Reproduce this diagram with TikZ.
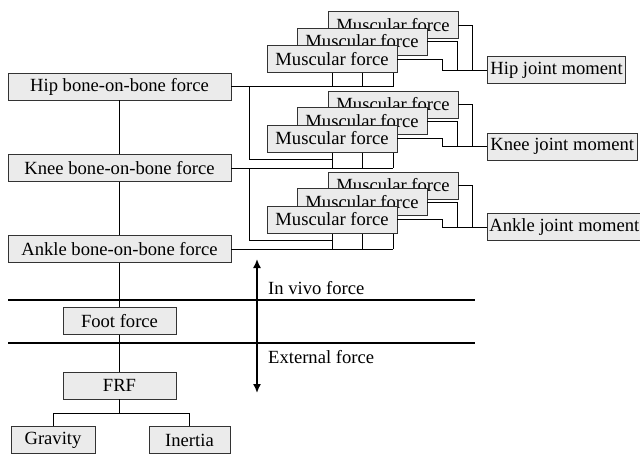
\documentclass[tikz,border=0pt]{standalone}
\usepackage{fontspec}
\setmainfont{Liberation Serif}
\usetikzlibrary{arrows.meta}
\tikzset{
  box/.style={draw=black!80,fill=black!8,line width=0.8pt,inner sep=0pt,minimum height=27pt,font=\fontsize{18.6}{21}\selectfont},
  bonebox/.style={box,minimum width=223pt},
  musclebox/.style={box,minimum width=130pt},
  momentbox/.style={box,anchor=west,inner xsep=3pt},
  smallbox/.style={box,minimum width=113pt},
}
\begin{document}
\begin{tikzpicture}[x=1pt,y=-1pt]
      \useasboundingbox (0,0) rectangle (640,455);
      % bone-on-bone chain
      \begin{scope}[every node/.style={bonebox}]
        \node (hip) at (119.5,86.5) {Hip bone-on-bone force};
        \node (knee) at (119.5,168) {Knee bone-on-bone force};
        \node (ankle) at (119.5,249) {Ankle bone-on-bone force};
      \end{scope}
      \begin{scope}[every node/.style={smallbox}]
        \node (foot) at (119.5,321) {Foot force};
        \node (frf) at (119.5,385.5) {FRF};
        \node[minimum width=84pt] (gravity) at (53,440) {Gravity};
        \node[minimum width=81pt] (inertia) at (189.5,440) {Inertia};
      \end{scope}
      % moments
      \begin{scope}[every node/.style={momentbox}]
        \node (hipm) at (487,70) {Hip joint moment};
        \node (kneem) at (487,146.5) {Knee joint moment};
        \node[inner xsep=2pt] (anklem) at (487,227) {Ankle joint moment};
      \end{scope}
      \coordinate (hipm-in) at (442,70);
      \coordinate (kneem-in) at (442,146.5);
      \coordinate (anklem-in) at (442,227);
      % muscle lines (drawn before the boxes)
      \begin{scope}[line width=0.8pt]
        \foreach \g/\y in {h/25,k/104.5,a/185.5} {
          \coordinate (m\g3) at (393,\y);
          \coordinate (m\g2) at (362,\y+16.5);
          \coordinate (m\g1) at (332,\y+34);
        }
        \draw[line width=1pt] (hip.east) -- (mh3 |- hip.east);
        \draw[line width=1pt] (knee.east) -- (mk3 |- knee.east);
        \draw[line width=1pt] (ankle.east) -- (ma3 |- ankle.east);
        \foreach \i in {1,2,3} {
          \draw (mh\i) -- (mh\i |- hip.east);
          \draw (mk\i) -- (mk\i |- knee.east);
          \draw (ma\i) -- (ma\i |- ankle.east);
        }
        \draw ([xshift=18pt]hip.east) |- ([yshift=-5pt]mk1 |- knee.north);
        \draw ([xshift=18pt]knee.east) |- ([yshift=-5pt]ma1 |- ankle.north);
      \end{scope}
      \begin{scope}[every node/.style={musclebox}]
        \foreach \g in {h,k,a} {
          \node (b\g3) at (m\g3) {Muscular force};
          \node (b\g2) at (m\g2) {Muscular force};
          \node (b\g1) at (m\g1) {Muscular force};
        }
      \end{scope}
      \begin{scope}[line width=0.8pt]
        \foreach \g/\m in {h/hipm,k/kneem,a/anklem} {
          \draw (b\g3.east) -- ++(14,0) |- (\m.west);
          \draw (b\g2.east) -- ++(30,0) |- (\m.west);
          \draw (b\g1.east) -| (\m-in) -- (\m.west);
        }
        \draw (hip) -- (knee);
        \draw (knee) -- (ankle);
        \draw (ankle) -- (foot);
        \draw (foot) -- (frf);
        \draw (frf.south) -- ++(0,14) -| (gravity.north);
        \draw (frf.south) -- ++(0,14) -| (inertia.north);
      \end{scope}
      % in vivo / external
      \coordinate (lineA-l) at (8,300);
      \coordinate (lineA-r) at (475,300);
      \coordinate (lineB-l) at (8,343);
      \coordinate (lineB-r) at (475,343);
      \coordinate (arrtop) at (257,259);
      \coordinate (arrbot) at (257,393);
      \draw[line width=1.5pt] (lineA-l) -- (lineA-r);
      \draw[line width=1.5pt] (lineB-l) -- (lineB-r);
      \draw[line width=1.6pt,{Latex[length=9pt,width=8pt]}-{Latex[length=9pt,width=8pt]}] (arrtop) -- (arrbot);
      \node[anchor=west,inner sep=0pt,font=\fontsize{18.6}{21}\selectfont] (invivo) at (268,288) {In vivo force};
      \node[anchor=west,inner sep=0pt,font=\fontsize{18.6}{21}\selectfont] (external) at (268,357) {External force};
\end{tikzpicture}
\end{document}
